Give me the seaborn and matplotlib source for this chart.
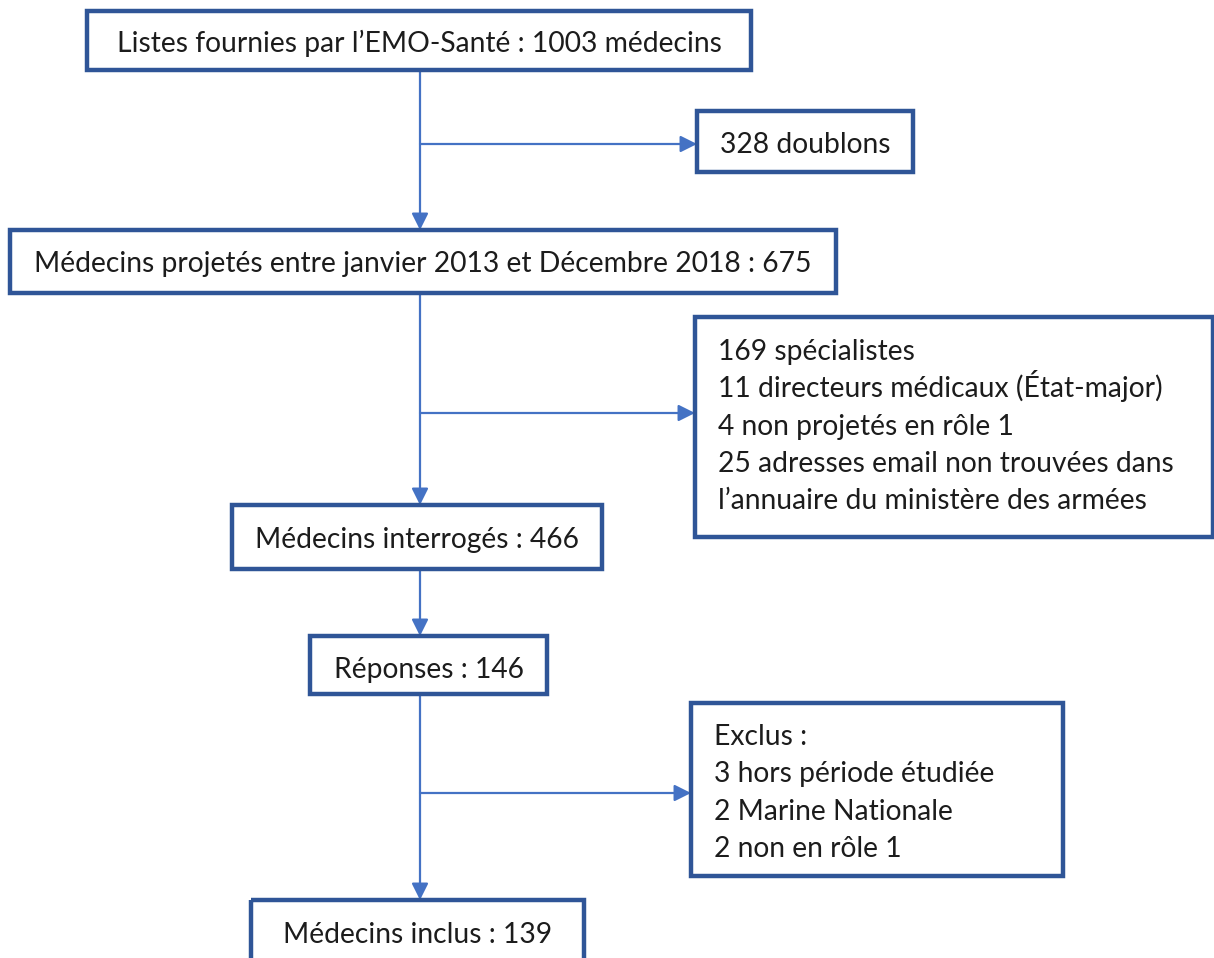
import matplotlib
matplotlib.use("Agg")
import matplotlib.pyplot as plt
from matplotlib.patches import Rectangle
import seaborn as sns

# flow counts
n_listes = 1003
n_doublons = 328
n_projetes = 675
excl_1 = [169, 11, 4, 25]
excl_1_txt = ["spécialistes", "directeurs médicaux (État-major)",
              "non projetés en rôle 1", "adresses email non trouvées dans"]
n_interroges = 466
n_reponses = 146
excl_2 = [3, 2, 2]
excl_2_txt = ["hors période étudiée", "Marine Nationale", "non en rôle 1"]
n_inclus = 139

main_texts = [
    f"Listes fournies par l\u2019EMO-Santé : {n_listes} médecins",
    f"Médecins projetés entre janvier 2013 et Décembre 2018 : {n_projetes}",
    f"Médecins interrogés : {n_interroges}",
    f"Réponses : {n_reponses}",
    f"Médecins inclus : {n_inclus}",
]
side_texts = [
    [f"{n_doublons} doublons"],
    [f"{n} {t}" for n, t in zip(excl_1, excl_1_txt)] + ["l\u2019annuaire du ministère des armées"],
    ["Exclus :"] + [f"{n} {t}" for n, t in zip(excl_2, excl_2_txt)],
]

# layout in pixels (x0, y0, x1, y1); text y are baselines
main_boxes = [(87, 11, 751, 70), (10, 230, 836, 293), (232, 505, 602, 569),
              (310, 636, 547, 694), (251, 900, 584, 1000)]
main_text_y = [52, 272, 548, 678, 943]
side_boxes = [(697, 111, 913, 172), (695, 317, 1213, 537), (691, 703, 1063, 876)]
side_first_y = [153, 360, 745]
side_text_x = [None, 718, 714]
line_step = 37.3
branch_y = [144, 413, 793]
trunk_x = 420

edge_col = "#2F5597"
line_col = "#4472C4"
text_col = "#1c1c1c"

sns.set_theme(style="white")
plt.rcParams["font.family"] = ["Lato", "DejaVu Sans"]

fig = plt.figure(figsize=(12.14, 9.58), dpi=100)
ax = fig.add_axes([0, 0, 1, 1])
ax.set_xlim(0, 1214)
ax.set_ylim(958, 0)
ax.axis("off")

fs = 20.3


def box(b):
    x0, y0, x1, y1 = b
    ax.add_patch(Rectangle((x0, y0), x1 - x0, y1 - y0, fill=False,
                           edgecolor=edge_col, linewidth=3.2, zorder=3))


def arrow(x0, y0, x1, y1):
    ax.annotate("", xy=(x1, y1), xytext=(x0, y0),
                arrowprops=dict(arrowstyle="-|>,head_length=1.0,head_width=0.5",
                                mutation_scale=10, color=line_col, lw=1.6,
                                shrinkA=0, shrinkB=0), zorder=2)


for b, t, ty in zip(main_boxes, main_texts, main_text_y):
    box(b)
    ax.text((b[0] + b[2]) / 2, ty, t, ha="center", va="baseline",
            fontsize=fs, color=text_col)

for b, lines, y0, tx in zip(side_boxes, side_texts, side_first_y, side_text_x):
    box(b)
    for i, line in enumerate(lines):
        if tx is None:
            ax.text((b[0] + b[2]) / 2, y0, line, ha="center", va="baseline",
                    fontsize=fs, color=text_col)
        else:
            ax.text(tx, y0 + i * line_step, line, ha="left", va="baseline",
                    fontsize=fs, color=text_col)

# trunk arrows between main boxes
for upper, lower in zip(main_boxes[:-1], main_boxes[1:]):
    arrow(trunk_x, upper[3], trunk_x, lower[1])

# side branches
for by, sb in zip(branch_y, side_boxes):
    arrow(trunk_x, by, sb[0], by)

fig.savefig("out.png", dpi=100, facecolor="white")
